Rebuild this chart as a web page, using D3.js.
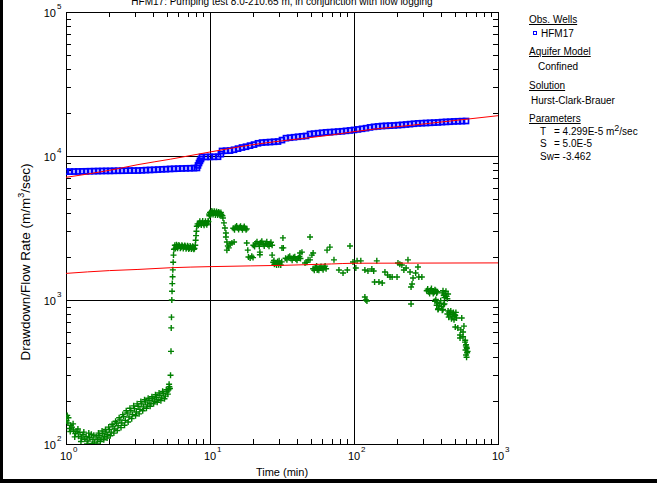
<!DOCTYPE html>
<html>
<head>
<meta charset="utf-8">
<script src="https://cdn.jsdelivr.net/npm/d3@7"></script>
<style>
  body { margin: 0; background: #fff; }
  svg { display: block; font-family: Arial, "Liberation Sans", sans-serif; }
</style>
</head>
<body>
<svg id="chart" width="657" height="483"></svg>
<script>
// Observed drawdown / flow rate at HFM17 (time in min, value in m/m3/sec)
const obsTime = [1.00,1.066,1.137,1.212,1.292,1.377,1.468,1.565,1.668,1.778,1.896,2.021,2.154,2.297,2.448,2.610,2.783,2.966,3.162,3.371,3.594,3.831,4.084,4.354,4.642,4.948,5.275,5.623,5.995,6.391,6.813,7.263,7.743,8.12,8.254,8.39,8.52,8.66,8.799,9.380,10.0,10.66,11.37,11.9,12.12,12.92,13.77,14.68,15.65,16.68,17.78,18.96,20.21,21.54,22.97,24.48,26.10,27.83,29.66,31.62,33.71,35.94,38.31,40.84,43.54,46.42,49.48,52.75,56.23,59.95,63.91,68.13,72.63,77.43,82.54,87.99,93.80,100,106.6,113.7,121.2,129.2,137.7,146.8,156.5,166.8,177.8,189.6,202.1,215.4,229.7,244.8,261.0,278.3,296.6,316.2,337.1,359.4,383.1,408.4,435.4,464.2,494.8,527.5,562.3,599.5];
const obsValue = [7780,7790,7800,7810,7820,7830,7840,7850,7860,7870,7880,7880,7890,7900,7900,7910,7920,7920,7930,7950,7980,8000,8020,8050,8080,8100,8130,8150,8170,8190,8210,8220,8240,8260,8600,8940,9250,9530,9840,9850,9860,9870,9880,10300,10840,10880,10900,11050,11250,11450,11600,11800,12000,12250,12400,12450,12500,12550,12600,12900,13300,13400,13500,13600,13700,13780,14200,14300,14400,14500,14600,14650,14700,14780,14850,14950,15050,15170,15300,15450,15600,15800,15950,16050,16150,16200,16250,16300,16380,16450,16550,16650,16750,16850,16900,16950,17000,17050,17100,17200,17250,17300,17380,17420,17460,17500];

// Flow-logging derived points [time (min), value]
const flowLog = [
  [1.00,150],[1.02,158],[1.03,140],[1.06,128],[1.08,135],[1.10,131],[1.13,125],[1.16,118],[1.19,122],[1.22,113],
  [1.25,120],[1.28,110],[1.31,116],[1.35,108],[1.38,113],[1.42,105],[1.46,111],[1.50,117],[1.54,108],[1.58,103],
  [1.62,112],[1.66,107],[1.70,115],[1.75,110],[1.80,118],[1.85,113],[1.90,121],[1.95,116],
  [1.01,145],[1.04,152],[1.07,122],[1.12,138],[1.15,112],[1.21,127],[1.27,104],[1.33,121],[1.40,100],[1.44,119],
  [1.52,101],[1.56,115],[1.64,100],[1.68,119],[1.73,104],[1.78,123],[1.83,107],[1.88,126],[1.93,110],[1.98,131],
  [2.00,126],[2.06,121],[2.12,133],[2.18,127],[2.24,140],[2.30,134],[2.37,147],[2.44,140],[2.51,155],[2.58,146],
  [2.66,164],[2.74,154],[2.82,170],[2.90,160],[2.99,176],[3.08,167],[3.17,183],[3.26,174],[3.36,190],[3.46,181],
  [3.56,196],[3.67,187],[3.78,201],[3.89,192],[4.00,206],[4.12,198],[4.24,211],[4.36,203],[4.49,218],[4.62,209],
  [4.76,224],[4.90,215],[5.04,230],[5.15,238],[5.22,250],[5.27,243],
  [2.03,114],[2.09,137],[2.15,119],[2.21,144],[2.27,124],[2.34,152],[2.41,130],[2.48,160],[2.55,135],[2.62,170],
  [2.70,142],[2.78,177],[2.86,150],[2.95,184],[3.04,157],[3.12,190],[3.22,162],[3.31,197],[3.41,170],[3.51,203],
  [3.62,177],[3.72,208],[3.84,183],[3.95,213],[4.06,190],[4.18,220],[4.30,195],[4.43,226],[4.56,200],[4.69,232],
  [4.83,206],[4.97,238],[5.10,222],[5.20,260],
  [5.32,300],[5.36,440],[5.38,640],[5.40,760],[5.43,1000],[5.45,1150],[5.47,1300],[5.50,1450],[5.52,1620],[5.55,1830],
  [5.58,2050],[5.62,2250],
  [5.70,2400],[5.80,2330],[5.90,2380],[6.00,2340],[6.15,2370],[6.30,2320],[6.45,2360],[6.60,2330],[6.75,2350],[6.90,2310],
  [7.05,2340],[7.20,2300],[7.35,2330],[7.50,2290],[7.65,2320],[7.80,2280],[7.90,2400],
  [5.75,2280],[5.85,2420],[5.95,2290],[6.08,2410],[6.22,2290],[6.38,2400],[6.52,2280],[6.68,2390],[6.82,2270],[6.98,2380],
  [7.12,2260],[7.28,2370],[7.42,2260],[7.58,2360],[7.72,2250],
  [7.95,2600],[8.00,2800],[8.05,3000],[8.10,3250],
  [8.20,3380],[8.40,3420],[8.60,3400],[8.80,3440],[9.00,3390],[9.20,3430],[9.40,3400],[9.60,3420],[9.75,3500],
  [8.30,3300],[8.50,3520],[8.70,3320],[8.90,3530],[9.10,3310],[9.30,3520],[9.50,3330],[9.70,3540],
  [9.85,3950],[10.0,4050],[10.2,4000],[10.4,4060],[10.6,4020],[10.8,4040],[11.0,3990],[11.2,4030],[11.4,3970],[11.6,4000],
  [11.8,3950],[12.0,3920],[12.2,3850],
  [9.90,3850],[10.1,3900],[10.3,4150],[10.5,3920],[10.7,4130],[10.9,3900],[11.1,4120],[11.3,3890],[11.5,4080],[11.7,3880],
  [11.9,4050],
  [12.3,3710],[12.5,3430],[12.7,3160],[12.9,2920],[12.9,2740],[13.1,2530],[13.1,2220],[13.3,2370],[13.5,2300],[13.8,2450],
  [14.2,2490],[14.7,2530],
  [14.5,3150],[15.0,3200],[15.5,3170],[16.0,3190],[16.5,3160],[17.0,3180],[17.5,3150],[18.0,3120],
  [14.8,3080],[15.3,3260],[15.8,3090],[16.3,3250],[16.8,3080],[17.3,3240],[17.8,3070],
  [18.0,2490],[18.3,2220],
  [18.5,1990],[19.0,1960],[19.5,2010],[19.9,1970],
  [20.0,2400],[20.8,2480],[21.6,2450],[22.5,2500],[23.4,2440],[24.3,2470],[25.2,2420],[26.1,2460],[27.0,2400],
  [20.4,2350],[21.2,2540],[22.0,2360],[22.9,2560],[23.8,2370],[24.8,2540],[25.7,2360],[26.5,2520],
  [22.2,2150],[22.2,2060],[27.0,2050],[32.1,2700],[31.6,2300],[32.3,2300],
  [27.5,1830],[28.0,1770],[28.5,1800],[29.5,1850],[30.0,1760],[30.5,1810],[31.5,1840],
  [27.8,1880],[29.0,1750],[30.2,1870],[31.0,1750],
  [33.5,1950],[35.0,1980],[36.5,1940],[38.0,1970],[39.5,1930],[41.0,1960],[42.5,1940],
  [34.2,1900],[35.8,2010],[37.2,1890],[38.8,2000],[40.2,1890],[41.8,2000],
  [43.5,2150],[42.2,2120],[45.7,1806],[47.0,1830],[48.0,1900],[49.5,2740],[49.5,1900],[51.0,2050],[52.0,2120],
  [52,1650],[54,1680],[56,1640],[58,1670],[60,1660],[62,1690],[64,1650],[55.5,1615],
  [53,1610],[55,1720],[57,1610],[59,1710],[61,1620],[63,1720],
  [65,2220],[68,2330],[72.6,1900],[78.6,1615],[83.9,1540],[89.9,1615],[93.8,2370],[98.4,1835],[103,1670],[105,1870],
  [111.5,1870],[119,1615],[125,1590],[139,1334],[119,1050],[121,1000],
  [144,1870],[123,985],[133,1640],[137,1590],[149,1334],[157,1313],[164,1563],[171,1493],[178,1446],[184,1446],
  [199,1446],[202,1806],[208,1770],[215,1750],[222,1615],[230,1670],[237,1900],[245,1563],[249,937],[253,1291],
  [249,1230],[257,1422],[268,1540],[278,1695],[282,1446],[296,1446],
  [320,1160],[325,1190],[330,1140],[335,1110],[340,1170],[345,1200],[350,1150],[355,1110],[360,1130],[365,1180],
  [370,1160],[375,1120],[380,1140],
  [410,1120],[415,1160],[420,1080],[425,1040],[430,1110],[435,1150],[440,1060],[445,1020],[450,1100],
  [365,980],[370,1010],[375,920],[380,960],[385,870],[390,910],[395,950],[400,990],[405,900],[410,850],
  [415,860],[420,930],[425,940],[383,860],
  [445,800],[450,840],[455,760],[460,820],[465,790],[470,840],[475,740],[480,800],[485,770],[490,820],
  [495,730],[500,790],[505,780],[510,820],[515,750],
  [560,750],[505,649],[526,640],[552,620],[545,571],[545,545],[580,659],[572,600],[572,555],
  [590,510],[600,490],[605,470],[595,450],[610,430],[600,415],[605,400],[615,440],[598,480],[592,525],[608,460]
];

// Hurst-Clark-Brauer type curve and its companion curve
const fitTime = [1, 2, 3.16, 5.3, 10, 19, 31.6, 70, 100, 316, 1000];
const fitDrawdown = [7110, 7950, 8710, 9500, 10660, 11910, 12740, 14000, 14760, 16760, 19050];
const fitRate = [1530, 1600, 1630, 1675, 1705, 1725, 1740, 1780, 1800, 1805, 1810];

const xDecades = [1, 10, 100, 1000];
const yDecades = [100, 1000, 10000, 100000];

const legendRows = [
  { text: "Obs. Wells", head: true },
  { text: "HFM17", marker: true },
  { text: "Aquifer Model", head: true },
  { text: "Confined" },
  { text: "Solution", head: true },
  { text: "Hurst-Clark-Brauer" }
];

const svg = d3.select("#chart");
const W = 657, H = 483;
const m = { left: 66, right: 498, top: 12, bottom: 444 };

const x = d3.scaleLog().domain([1, 1000]).range([m.left, m.right]);
const y = d3.scaleLog().domain([100, 100000]).range([m.bottom, m.top]);

svg.append("rect").attr("width", W).attr("height", H).attr("fill", "#fff");

// page border (left and bottom edges)
svg.append("rect").attr("x", 0).attr("y", 0).attr("width", 3).attr("height", H).attr("fill", "#000");
svg.append("rect").attr("x", 0).attr("y", 479).attr("width", W).attr("height", 4).attr("fill", "#000");

// title (runs off the top edge of the page)
svg.append("text").attr("x", 282).attr("y", 5).attr("text-anchor", "middle")
  .attr("font-size", 10).text("HFM17: Pumping test 8.0-210.65 m, in conjunction with flow logging");

// minor ticks on all four sides, pointing inward
const minorX = x.ticks().filter(d => !xDecades.includes(d));
const minorY = y.ticks().filter(d => !yDecades.includes(d));
const tick = 5;
const axes = svg.append("g").attr("stroke", "#000").attr("stroke-width", 1).attr("shape-rendering", "crispEdges");
const addAxis = (gen, tx, ty) => {
  const g = axes.append("g").attr("transform", `translate(${tx},${ty})`).call(gen);
  g.select(".domain").remove();
  g.selectAll("text").remove();
  g.selectAll("line").attr("stroke", "#000");
};
addAxis(d3.axisBottom(x).tickValues(minorX).tickSize(-tick), 0, m.bottom);
addAxis(d3.axisTop(x).tickValues(minorX).tickSize(-tick), 0, m.top);
addAxis(d3.axisLeft(y).tickValues(minorY).tickSize(-tick), m.left, 0);
addAxis(d3.axisRight(y).tickValues(minorY).tickSize(-tick), m.right, 0);

// decade grid lines
const grid = svg.append("g").attr("stroke", "#000").attr("stroke-width", 1).attr("shape-rendering", "crispEdges");
grid.selectAll(".gx").data(xDecades.slice(1, -1)).join("line")
  .attr("x1", d => Math.round(x(d)) + 0.5).attr("x2", d => Math.round(x(d)) + 0.5)
  .attr("y1", m.top).attr("y2", m.bottom);
grid.selectAll(".gy").data(yDecades.slice(1, -1)).join("line")
  .attr("y1", d => Math.round(y(d)) + 0.5).attr("y2", d => Math.round(y(d)) + 0.5)
  .attr("x1", m.left).attr("x2", m.right);

// plot frame
svg.append("rect").attr("x", m.left + 0.5).attr("y", m.top + 0.5)
  .attr("width", m.right - m.left).attr("height", m.bottom - m.top)
  .attr("fill", "none").attr("stroke", "#000").attr("stroke-width", 1);

// decade tick labels as 10 with exponent
const xl = svg.append("g").attr("font-size", 11);
xDecades.forEach(d => {
  const px = x(d);
  xl.append("text").attr("x", px).attr("y", 460).attr("text-anchor", "middle").text("10");
  xl.append("text").attr("x", px + 7).attr("y", 452).attr("font-size", 8).text(Math.log10(d));
});
const yl = svg.append("g").attr("font-size", 11);
yDecades.forEach(d => {
  const py = y(d);
  yl.append("text").attr("x", 56).attr("y", py + 5).attr("text-anchor", "end").text("10");
  yl.append("text").attr("x", 57).attr("y", py - 3).attr("font-size", 8).text(Math.log10(d));
});

// axis titles
svg.append("text").attr("x", 282).attr("y", 476).attr("text-anchor", "middle")
  .attr("font-size", 11).text("Time (min)");
const yt = svg.append("text").attr("transform", "translate(30,262) rotate(-90)")
  .attr("text-anchor", "middle").attr("font-size", 13.5);
yt.append("tspan").text("Drawdown/Flow Rate (m/m");
yt.append("tspan").attr("font-size", 9).attr("dy", -6).text("3");
yt.append("tspan").attr("dy", 6).text("/sec)");

// clip marks to plot area
svg.append("clipPath").attr("id", "plotClip").append("rect")
  .attr("x", m.left).attr("y", m.top).attr("width", m.right - m.left).attr("height", m.bottom - m.top);
const plot = svg.append("g").attr("clip-path", "url(#plotClip)");

// observed drawdown: open blue squares
plot.append("g").selectAll("rect").data(obsTime.map((t, i) => [t, obsValue[i]])).join("rect")
  .attr("x", d => x(d[0]) - 2.5).attr("y", d => y(d[1]) - 2.5)
  .attr("width", 5).attr("height", 5)
  .attr("fill", "none").attr("stroke", "#0000ff").attr("stroke-width", 1.7);

// flow logging points: green crosses
const cross = 3;
plot.append("g").attr("stroke", "#008000").attr("stroke-width", 1.4).selectAll("path").data(flowLog).join("path")
  .attr("d", d => {
    const px = x(d[0]), py = y(d[1]);
    return `M${px - cross},${py}H${px + cross}M${px},${py - cross}V${py + cross}`;
  });

// fitted curves
const line = d3.line().x(d => x(d[0])).y(d => y(d[1])).curve(d3.curveMonotoneX);
[fitDrawdown, fitRate].forEach(vals => {
  plot.append("path").datum(fitTime.map((t, i) => [t, vals[i]]))
    .attr("d", line).attr("fill", "none").attr("stroke", "#ff0000").attr("stroke-width", 1);
});

// legend
const lg = svg.append("g").attr("font-size", 10);
const rowsY = [19, 33, 51, 66, 85, 100];
legendRows.forEach((r, i) => {
  const t = lg.append("text").attr("y", rowsY[i] + 4).text(r.text);
  if (r.head) t.attr("x", 529).attr("text-decoration", "underline");
  else if (r.marker) t.attr("x", 541);
  else t.attr("x", i === 5 ? 531 : 538);
  if (r.marker) {
    lg.append("rect").attr("x", 533.5).attr("y", rowsY[i] - 1.5).attr("width", 3).attr("height", 3)
      .attr("fill", "none").attr("stroke", "#0000ff").attr("stroke-width", 1);
  }
});
lg.append("text").attr("x", 529).attr("y", 122).attr("text-decoration", "underline").text("Parameters");
const params = [
  { k: "T", v: "= 4.299E-5 m", sup: "2", tail: "/sec", yy: 135 },
  { k: "S", v: "= 5.0E-5", yy: 147 },
  { k: "Sw", v: "= -3.462", yy: 160 }
];
params.forEach(p => {
  lg.append("text").attr("x", 540).attr("y", p.yy).text(p.k);
  const t = lg.append("text").attr("x", 554).attr("y", p.yy);
  t.append("tspan").text(p.v);
  if (p.sup) {
    t.append("tspan").attr("dy", -4).attr("font-size", 9).text(p.sup);
    t.append("tspan").attr("dy", 4).text(p.tail);
  }
});
</script>
</body>
</html>
